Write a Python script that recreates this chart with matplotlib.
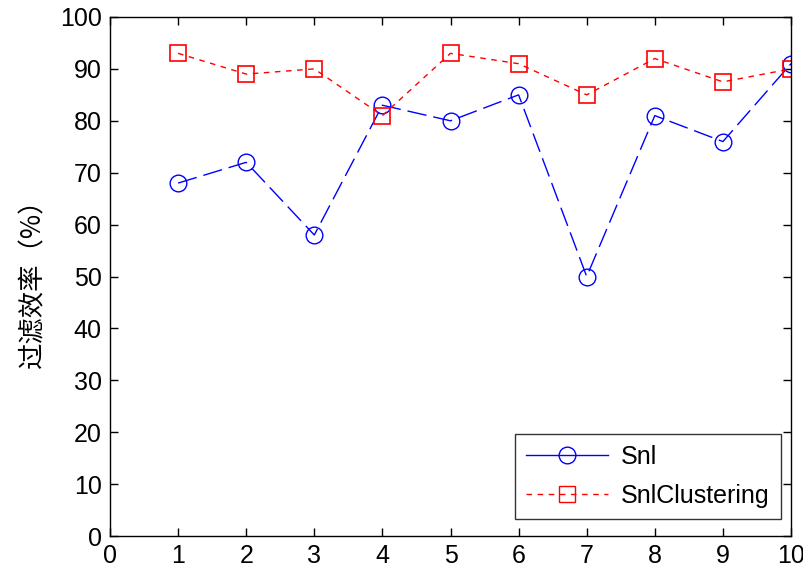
import matplotlib

matplotlib.use("Agg")

import matplotlib.pyplot as plt
from matplotlib.lines import Line2D

x_values = [1, 2, 3, 4, 5, 6, 7, 8, 9, 10]
snl = [68, 72, 58, 83, 80, 85, 50, 81, 76, 91]
snl_clustering = [93, 89, 90, 81, 93, 91, 85, 92, 87.5, 90]
x_ticks = list(range(0, 11))
y_ticks = list(range(0, 101, 10))
y_label = "过滤效率（%）"

plt.rcParams["font.family"] = ["Liberation Sans", "DejaVu Sans"]

fig = plt.figure(figsize=(8.04, 5.73), dpi=100)
ax = fig.add_axes([110 / 804, 1 - 536 / 573, 681 / 804, 519 / 573])

ax.plot(x_values, snl, color="blue", linewidth=1.0, dashes=(14, 5),
        marker="o", markersize=12, markerfacecolor="none", markeredgecolor="blue",
        markeredgewidth=1.0)
ax.plot(x_values, snl_clustering, color="red", linewidth=1.0, dashes=(4, 4),
        marker="s", markersize=12, markerfacecolor="none", markeredgecolor="red",
        markeredgewidth=1.2)

ax.set_xlim(0, 10)
ax.set_ylim(0, 100)
ax.set_xticks(x_ticks)
ax.set_yticks(y_ticks)
ax.tick_params(direction="in", length=6, width=1, top=True, right=True,
               labelsize=18, pad=6)
for spine in ax.spines.values():
    spine.set_linewidth(1.0)
ax.set_ylabel(y_label, fontsize=19, family=["Noto Sans CJK SC", "DejaVu Sans"], labelpad=10)

handles = [
    Line2D([], [], color="blue", linewidth=1.0, marker="o", markersize=12,
           markerfacecolor="none", markeredgecolor="blue"),
    Line2D([], [], color="red", linewidth=1.0, dashes=(4, 4), marker="s", markersize=12,
           markerfacecolor="none", markeredgecolor="red"),
]
leg = ax.legend(handles, ["Snl", "SnlClustering"], loc="lower right",
                bbox_to_anchor=(0.985, 0.032), fontsize=18, frameon=True,
                fancybox=False, handlelength=3.3, borderpad=0.45, labelspacing=0.6,
                handletextpad=0.5, borderaxespad=0)
leg.get_frame().set_edgecolor("black")
leg.get_frame().set_linewidth(1.0)

fig.savefig("out.png", facecolor="white")
